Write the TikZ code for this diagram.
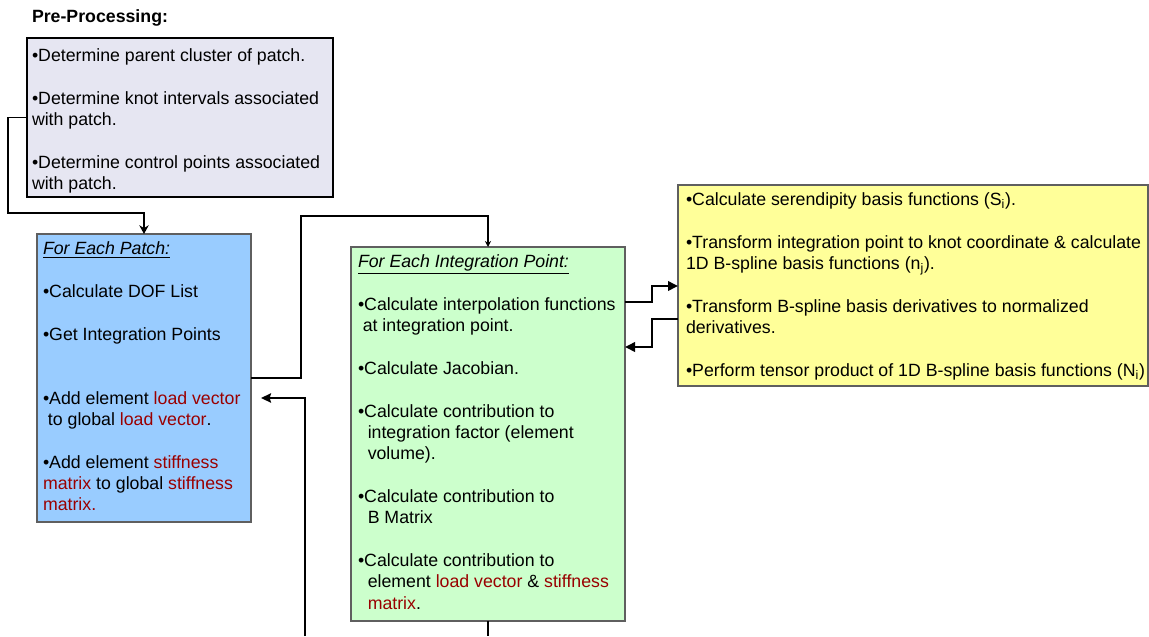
\documentclass[tikz,border=0pt]{standalone}
\usepackage{fontspec}
\setmainfont{Liberation Sans}
\usetikzlibrary{arrows.meta,calc}
\definecolor{dred}{RGB}{153,0,0}
\definecolor{prefill}{RGB}{230,230,242}
\definecolor{bluefill}{RGB}{153,204,255}
\definecolor{greenfill}{RGB}{204,255,204}
\definecolor{yellowfill}{RGB}{255,255,153}
\definecolor{edgegray}{RGB}{95,95,95}
\newcommand{\hlr}[1]{\textcolor{dred}{#1}}
\begin{document}
\begin{tikzpicture}[x=0.75pt,y=-0.75pt,
  box/.style={draw=edgegray,line width=1.1pt,inner sep=0pt,outer sep=0pt},
  txt/.style={anchor=north west,inner sep=0pt,outer sep=0pt,align=left,font=\fontsize{13.3}{16}\selectfont},
  conn/.style={line width=1.35pt,black},
  thickconn/.style={line width=2pt,black},
  smalltip/.style={-{Stealth[length=4.5pt,width=4.5pt]}},
  midtip/.style={-{Stealth[length=6.5pt,width=7pt,inset=2pt]}},
  bigtip/.style={-{Triangle[length=7.5pt,width=7pt]}},
  lefttip/.style={-{Stealth[length=7.5pt,width=7pt,inset=1pt]}}]
\fill[white] (0,0) rectangle (1149,636);
\useasboundingbox (0,0) rectangle (1149,636);

% boxes
\node[box,draw=black,line width=2pt,fill=prefill,minimum width=229.5pt,minimum height=119.25pt] (pre) at (180,117.5) {};
\node[box,fill=bluefill,minimum width=160.5pt,minimum height=216pt] (blue) at (144,378) {};
\node[box,fill=greenfill,minimum width=205.5pt,minimum height=280.5pt] (green) at (488,434) {};
\node[box,fill=yellowfill,minimum width=352.5pt,minimum height=150.75pt] (yellow) at (913,285.5) {};

% texts
\node[txt,anchor=base west] (pretitle) at (32,22) {\bfseries Pre-Processing:};
\node[txt] (pretxt) at (32,48.5) {•Determine parent cluster of patch.\\[16pt]•Determine knot intervals associated\\with patch.\\[16pt]•Determine control points associated\\with patch.};
\node[txt] (bluetxt) at (43,242) {\underline{\textit{For Each Patch:}}\\[16pt]•Calculate DOF List\\[16pt]•Get Integration Points\\[32pt]•Add element \hlr{load vector}\\\hspace*{0.28em}to global \hlr{load vector}.\\[16pt]•Add element \hlr{stiffness}\\\hlr{matrix} to global \hlr{stiffness}\\\hlr{matrix.}};
\node[txt] (greentxt) at (358,255) {\underline{\textit{For Each Integration Point:}}\\[16pt]•Calculate interpolation functions\\\hspace*{0.27em}at integration point.\\[16pt]•Calculate Jacobian.\\[16pt]•Calculate contribution to\\\hspace*{0.55em}integration factor (element\\\hspace*{0.55em}volume).\\[16pt]•Calculate contribution to\\\hspace*{0.55em}B Matrix\\[16pt]•Calculate contribution to\\\hspace*{0.55em}element \hlr{load vector} \& \hlr{stiffness}\\\hspace*{0.55em}\hlr{matrix}.};
\node[txt] (yellowtxt) at (686,193) {•Calculate serendipity basis functions (S\textsubscript{i}).\\[16pt]•Transform integration point to knot coordinate \& calculate\\1D B-spline basis functions (n\textsubscript{j}).\\[16pt]•Transform B-spline basis derivatives to normalized\\derivatives.\\[16pt]•Perform tensor product of 1D B-spline basis functions (N\textsubscript{i})};

% connectors
\draw[conn,midtip] (pre.west) -- ++(-19,0) |- ($(blue.north)+(0,-21)$) -- (blue.north);
\draw[conn,smalltip] (blue.east) -- ++(50,0) |- ($(green.north)+(0,-31)$) -- (green.north);
\draw[thickconn,bigtip] ($(green.north east)+(0,55)$) -- ++(27,0) |- ($(yellow.north west)+(0,101)$);
\draw[thickconn,bigtip] ($(yellow.north west)+(0,134)$) -- ++(-26,0) |- ($(green.north east)+(0,100)$);
\coordinate (gbot) at (488,636);
\draw[conn] (green.south) -- (gbot);
\coordinate (lbot) at (305,636);
\coordinate (ltip) at (261,398);
\draw[conn,lefttip] (lbot) |- (ltip);
\end{tikzpicture}
\end{document}
